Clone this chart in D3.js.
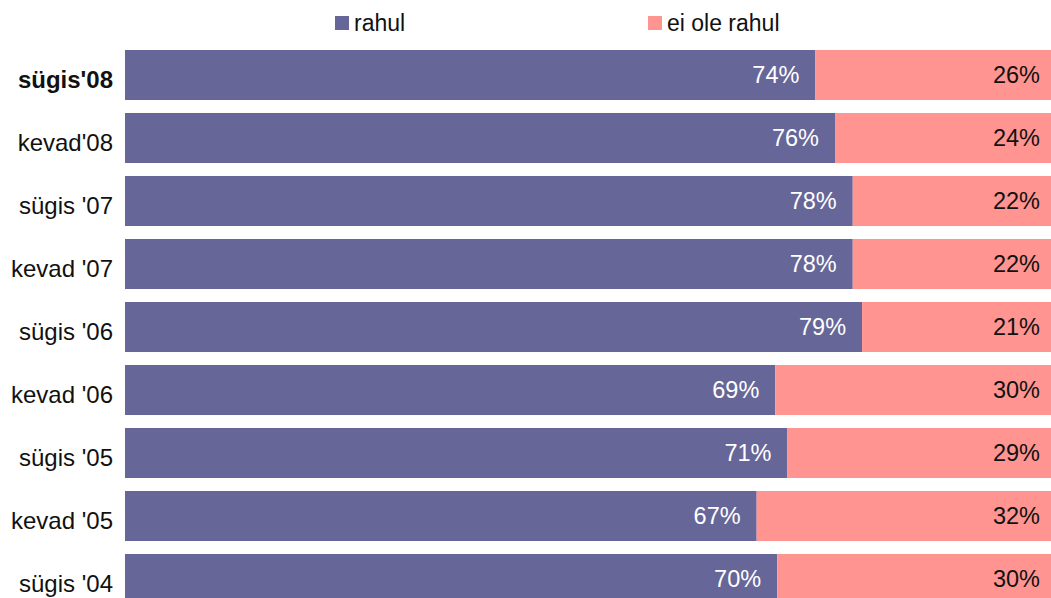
<!DOCTYPE html>
<html><head><meta charset="utf-8">
<script src="https://cdn.jsdelivr.net/npm/d3@7"></script>
<style>body{margin:0;background:#fff}svg{display:block}text{font-family:"Liberation Sans",Arial,sans-serif}</style>
</head><body><svg id="c" width="1051" height="598"></svg>
<script>
const categories = ["sügis'08","kevad'08","sügis '07","kevad '07","sügis '06","kevad '06","sügis '05","kevad '05","sügis '04"];
const rahul = [74.0, 76.1, 78.0, 78.0, 79.0, 69.7, 71.0, 67.7, 69.9];
const eiOle = [26.0, 23.9, 22.0, 22.0, 21.0, 30.3, 29.0, 32.3, 30.1];
const rahulLabels = ["74%","76%","78%","78%","79%","69%","71%","67%","70%"];
const eiOleLabels = ["26%","24%","22%","22%","21%","30%","29%","32%","30%"];
const seriesNames = ["rahul","ei ole rahul"];
const colors = ["#666699","#FF9490"];

const svg = d3.select("#c");
const x = d3.scaleLinear().domain([0,100]).range([125,1058]);
const y = d3.scaleBand().domain(categories).range([43.5,610.5]).paddingInner(0.206).paddingOuter(0.103);

const data = categories.map((c,i)=>({cat:c, r:rahul[i], e:eiOle[i], rl:rahulLabels[i], el:eiOleLabels[i]}));

const g = svg.append("g");
g.selectAll("rect.r").data(data).join("rect").attr("class","r")
  .attr("x",x(0)).attr("y",d=>y(d.cat)).attr("width",d=>x(d.r)-x(0)).attr("height",y.bandwidth()).attr("fill",colors[0]);
g.selectAll("rect.e").data(data).join("rect").attr("class","e")
  .attr("x",d=>x(d.r)).attr("y",d=>y(d.cat)).attr("width",d=>x(d.r+d.e)-x(d.r)).attr("height",y.bandwidth()).attr("fill",colors[1]);

g.selectAll("text.rl").data(data).join("text").attr("class","rl")
  .attr("x",d=>x(d.r)-16).attr("y",d=>y(d.cat)+y.bandwidth()/2).attr("dy","0.36em")
  .attr("text-anchor","end").attr("font-size",23.5).attr("fill","#fff").text(d=>d.rl);
g.selectAll("text.el").data(data).join("text").attr("class","el")
  .attr("x",1040).attr("y",d=>y(d.cat)+y.bandwidth()/2).attr("dy","0.36em")
  .attr("text-anchor","end").attr("font-size",23.5).attr("fill","#111").text(d=>d.el);

const axis = d3.axisLeft(y).tickSize(0).tickPadding(12);
const ag = svg.append("g").attr("transform",`translate(${x(0)},0)`).call(axis);
ag.select(".domain").remove();
ag.selectAll("text").attr("font-size",24).attr("fill","#111").attr("font-family","Liberation Sans, Arial, sans-serif")
  .attr("dy","0.55em")
  .attr("font-weight",(d,i)=>i===0?"bold":"normal");

const legX = [335,648];
const lg = svg.append("g").selectAll("g").data(seriesNames).join("g")
  .attr("transform",(d,i)=>`translate(${legX[i]},16)`);
lg.append("rect").attr("width",14).attr("height",14).attr("fill",(d,i)=>colors[i]);
lg.append("text").attr("x",19).attr("y",15).attr("font-size",23).attr("fill","#111").text(d=>d);
</script></body></html>
